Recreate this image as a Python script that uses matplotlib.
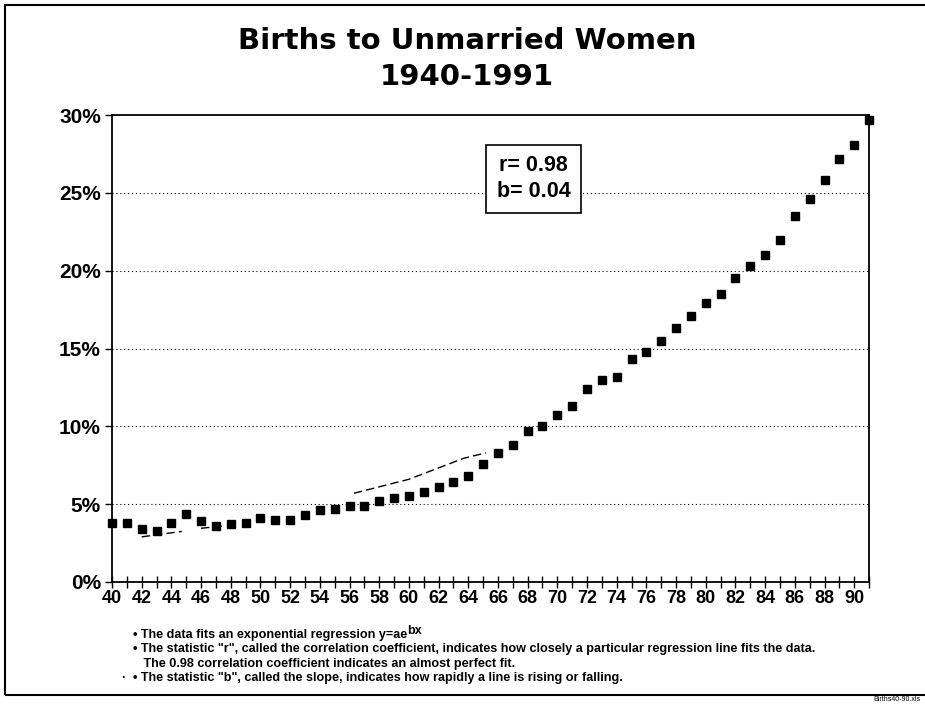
import matplotlib.pyplot as plt
import numpy as np
from matplotlib.patches import Rectangle
from matplotlib.ticker import MultipleLocator, FuncFormatter

plt.rcParams['font.family'] = ['Liberation Sans', 'DejaVu Sans']

# share of births to unmarried women, 1940-1991 (percent)
years = np.arange(40, 92)
pct = [3.8, 3.8, 3.4, 3.3, 3.8, 4.4, 3.9, 3.6, 3.7, 3.8,
       4.1, 4.0, 4.0, 4.3, 4.6, 4.7, 4.9, 4.9, 5.2, 5.4,
       5.5, 5.8, 6.1, 6.4, 6.8, 7.6, 8.3, 8.8, 9.7, 10.0,
       10.7, 11.3, 12.4, 13.0, 13.2, 14.3, 14.8, 15.5, 16.3, 17.1,
       17.9, 18.5, 19.5, 20.3, 21.0, 22.0, 23.5, 24.6, 25.8, 27.2,
       28.1, 29.7]

# faint dashed regression curve, only partly visible in the scan
fit_x = [42, 44.7, np.nan, 46.0, 47.5, np.nan, 56.3, 60.0, 63.7, 65.2]
fit_y = [2.9, 3.25, np.nan, 3.45, 3.6, np.nan, 5.7, 6.6, 7.95, 8.3]

gridlevels = [5, 10, 15, 20, 25]
r_value = 0.98
b_value = 0.04

notes = [
    "\u2022 The data fits an exponential regression y=ae",
    "\u2022 The statistic \"r\", called the correlation coefficient, indicates how closely a particular regression line fits the data.",
    "   The 0.98 correlation coefficient indicates an almost perfect fit.",
    "\u2022 The statistic \"b\", called the slope, indicates how rapidly a line is rising or falling.",
]

fig = plt.figure(figsize=(9.25, 7.04), dpi=100)
ax = fig.add_axes([0.1211, 0.1733, 0.8184, 0.6633])

for g in gridlevels:
    ax.axhline(g, color='black', lw=0.8, linestyle=(0, (1, 2.5)), zorder=1)

ax.plot(fit_x, fit_y, color='black', lw=1.0, linestyle=(0, (6, 3)), zorder=2)
ax.plot(years, pct, linestyle='none', marker='s', markersize=6.2,
        color='black', zorder=3, clip_on=False)

ax.set_xlim(40, 91)
ax.set_ylim(0, 30)
ax.xaxis.set_major_locator(MultipleLocator(2))
ax.xaxis.set_minor_locator(MultipleLocator(1))
ax.yaxis.set_major_locator(MultipleLocator(5))
ax.yaxis.set_major_formatter(FuncFormatter(lambda v, p: f"{v:.0f}%"))
ax.tick_params(axis='x', which='both', direction='inout', length=8, width=1,
               labelsize=13, pad=2)
ax.tick_params(axis='y', direction='out', length=5, width=1, labelsize=15, pad=3)
for lab in ax.get_xticklabels() + ax.get_yticklabels():
    lab.set_fontweight('bold')
for sp in ax.spines.values():
    sp.set_linewidth(1.3)

ax.text(68.4, 25.9, f"r= {r_value:.2f}\nb= {b_value:.2f}", fontsize=15.5,
        fontweight='bold', ha='center', va='center', linespacing=1.3, zorder=4,
        bbox=dict(boxstyle='square,pad=0.5', facecolor='white',
                  edgecolor='black', lw=1.2))

fig.text(0.505, 0.942, "Births to Unmarried Women", ha='center', va='center',
         fontsize=21, fontweight='bold', family=['DejaVu Sans'])
fig.text(0.505, 0.890, "1940-1991", ha='center', va='center',
         fontsize=21, fontweight='bold', family=['DejaVu Sans'])

note_y = [0.094, 0.074, 0.053, 0.033]
note_texts = []
for txt, y in zip(notes, note_y):
    note_texts.append(fig.text(0.144, y, txt, fontsize=9.1, fontweight='bold',
                               va='baseline'))
# superscript "bx" of the regression formula
ax.annotate("bx", xy=(1, 0.35), xycoords=note_texts[0], fontsize=9.1,
            fontweight='bold', va='bottom', ha='left')
fig.text(0.131, 0.033, "\u00b7", fontsize=9.1, fontweight='bold', va='baseline')

# outer frame of the scanned page
fig.add_artist(Rectangle((0.005, 0.013), 1.2, 0.98, transform=fig.transFigure,
                         fill=False, edgecolor='black', lw=1.5))
fig.text(0.995, 0.002, "Births40-90.xls", fontsize=5, ha='right', va='bottom')

fig.savefig("out.png", dpi=100)
